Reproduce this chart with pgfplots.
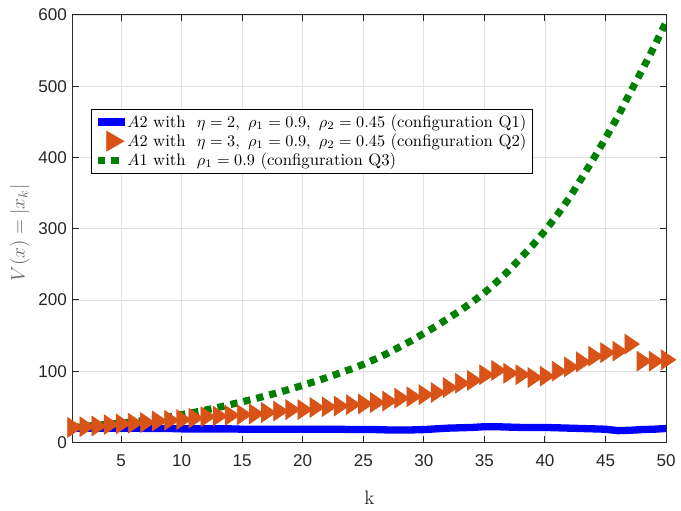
\documentclass[border=0pt]{standalone}
\usepackage{fontspec}
\usepackage{pgfplots}
\pgfplotsset{compat=1.18}
\newfontfamily\ticksans{Liberation Sans}
\definecolor{mblue}{RGB}{0,0,255}
\definecolor{morange}{RGB}{217,83,25}
\definecolor{mgreen}{RGB}{0,128,0}
\definecolor{axgray}{RGB}{38,38,38}
\definecolor{gridgray}{RGB}{225,225,225}

% Q1: A2, eta=2
\pgfplotstableread{
k v
1 20
2 20
3 20
4 20
5 20
6 20
7 19.5
8 19.5
9 19.5
10 19
11 19
12 19
13 19
14 19
15 18.5
16 18.5
17 18.5
18 18.5
19 18.5
20 18.5
21 18.5
22 18.5
23 18.5
24 18
25 18
26 18
27 17.5
28 17.5
29 17.5
30 18
31 19
32 20
33 20.5
34 21
35 22
36 22
37 21.5
38 21
39 21
40 21
41 20.5
42 20
43 19.5
44 19
45 18.5
46 16.5
47 17
48 18
49 18.5
50 19.5
}\qone

% Q2: A2, eta=3
\pgfplotstableread{
k v
1 21
2 22
3 23
4 25
5 26
6 27
7 28
8 30
9 31
10 32
11 34
12 36
13 37
14 38
15 39
16 40
17 42
18 44
19 46
20 46
21 49
22 50
23 51
24 53
25 54
26 56
27 58
28 62
29 64
30 67
31 70
32 77
33 83
34 87
35 95
36 101
37 97
38 95
39 91
40 93
41 100
42 106
43 113
44 121
45 126
46 128
47 138
48 114
49 114
50 116
}\qtwo

% Q3: A1
\pgfplotstableread{
k v
1 21
2 22.5
3 24
4 25.5
5 27
6 29
7 31
8 33.5
9 36
10 39
11 42
12 45.5
13 49
14 53
15 57
16 61
17 65.5
18 70
19 75
20 80
21 85.5
22 91
23 97
24 103
25 109.5
26 117
27 125
28 134
29 143
30 153
31 163
32 174
33 185
34 197
35 210
36 225
37 241
38 259
39 277
40 297
41 319
42 343
43 370
44 398
45 427
46 457
47 490
48 522
49 555
50 590
}\qthree

\begin{document}
\begin{tikzpicture}
\begin{axis}[
    scale only axis,
    width=365.6pt, height=263.3pt,
    xmin=1, xmax=50, ymin=0, ymax=600,
    xtick={5,10,...,50}, ytick={0,100,...,600},
    grid=major,
    major grid style={gridgray, line width=0.5pt},
    axis line style={axgray, line width=0.6pt},
    tick style={axgray, line width=0.6pt},
    tick align=inside, major tick length=3.7pt,
    tick label style={font=\ticksans\fontsize{10.5}{12}\selectfont, text=axgray},
    /pgf/number format/assume math mode=true,
    xticklabel style={yshift=-4pt},
    xlabel={k}, ylabel={$V(x)=|x_k|$},
    every axis x label/.style={at={(axis description cs:0.5,-0.13)}, anchor=center,
        text=axgray, font=\large},
    every axis y label/.style={at={(axis description cs:-0.089,0.49)}, anchor=center,
        rotate=90, text=black!60, font=\large},
    legend style={at={(axis description cs:0.0315,0.781)}, anchor=north west,
        draw=black, line width=0.5pt, fill=white,
        font=\fontsize{10.3}{12}\selectfont, inner sep=1.5pt,
        row sep=-1.5pt, cells={anchor=west}},
]
\addplot[mblue, line width=4.5pt, line join=round,
    legend image code/.code={\draw[overlay, mblue, line width=4.5pt] (0pt,0pt) -- (17pt,0pt);
        \path (0pt,0pt) -- (14pt,0pt);}]
    table[x=k, y=v] {\qone};
\addlegendentry{$A2$ with\ \ $\eta=2,\ \rho_1=0.9,\ \rho_2=0.45$ (configuration Q1)}

\addplot[draw=none, mark=triangle*, mark size=7pt,
    mark options={morange, fill=morange, draw=morange, rotate=-90, yscale=0.85},
    legend image code/.code={\path[overlay] plot[mark=triangle*, mark size=7pt, mark options={morange, fill=morange, rotate=-90}] coordinates {(9pt,0pt)};
        \path (0pt,0pt) -- (14pt,0pt);}]
    table[x=k, y=v] {\qtwo};
\addlegendentry{$A2$ with\ \ $\eta=3,\ \rho_1=0.9,\ \rho_2=0.45$ (configuration Q2)}

\addplot[mgreen, line width=4.4pt, line cap=butt, dash pattern=on 4.4pt off 3.8pt,
    legend image code/.code={\draw[overlay, mgreen, line width=4.2pt, line cap=butt, dash pattern=on 4.2pt off 4.6pt] (0pt,0pt) -- (13pt,0pt);
        \path (0pt,0pt) -- (14pt,0pt);}]
    table[x=k, y=v] {\qthree};
\addlegendentry{$A1$ with\ \ $\rho_1=0.9$ (configuration Q3)}
\end{axis}
\path[draw=none] ([shift={(-44.7pt,-39.8pt)}]current axis.south west) rectangle ([shift={(6.7pt,9.2pt)}]current axis.north east);
\end{tikzpicture}
\end{document}
